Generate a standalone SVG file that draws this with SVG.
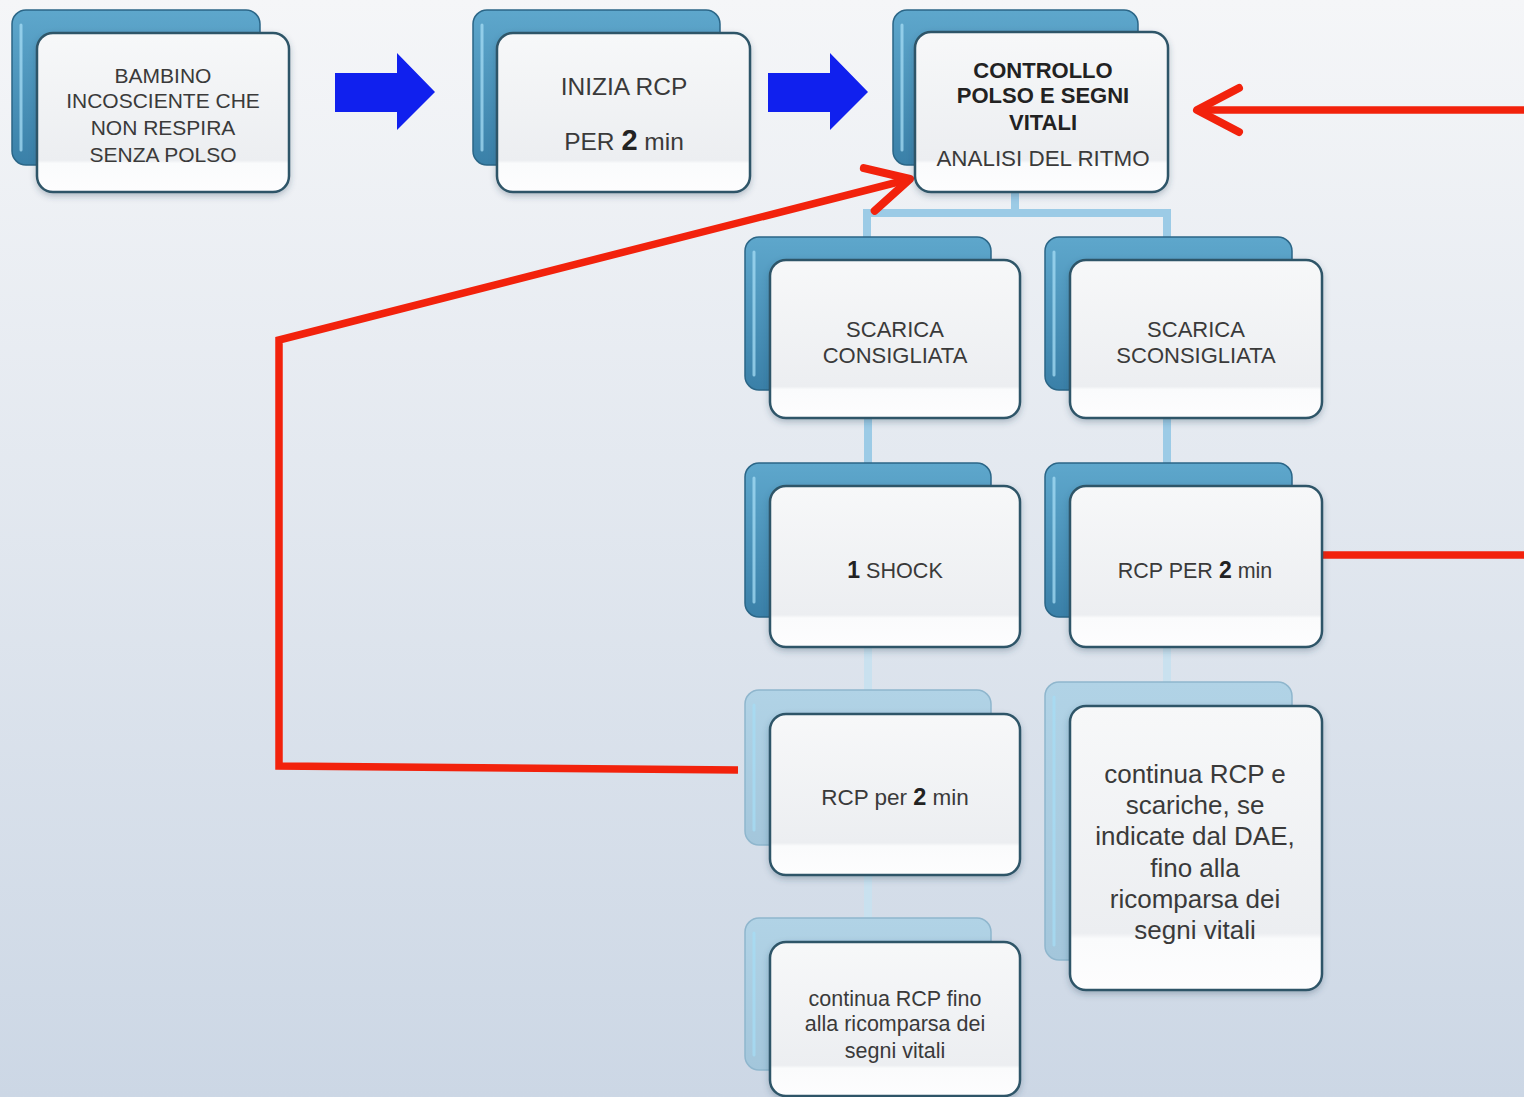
<svg xmlns="http://www.w3.org/2000/svg" width="1524" height="1097" viewBox="0 0 1524 1097">
<defs>
<linearGradient id="bg" x1="0" y1="0" x2="0" y2="1">
<stop offset="0" stop-color="#f5f6f8"/>
<stop offset="1" stop-color="#ccd7e5"/>
</linearGradient>
<linearGradient id="backG" x1="0" y1="0" x2="0" y2="1">
<stop offset="0" stop-color="#5ea7cc"/>
<stop offset="1" stop-color="#3a80a8"/>
</linearGradient>
<linearGradient id="backL" x1="0" y1="0" x2="0" y2="1">
<stop offset="0" stop-color="#b1d3e6"/>
<stop offset="1" stop-color="#a3c6db"/>
</linearGradient>
<linearGradient id="frontG" x1="0" y1="0" x2="0" y2="1">
<stop offset="0" stop-color="#f7f8f9"/>
<stop offset="0.8" stop-color="#eceef1"/>
<stop offset="0.82" stop-color="#fafbfc"/>
<stop offset="1" stop-color="#fdfdfe"/>
</linearGradient>
<filter id="sh" x="-10%" y="-10%" width="120%" height="125%">
<feDropShadow dx="0" dy="3" stdDeviation="3" flood-color="#2a4a60" flood-opacity="0.3"/>
</filter>
<marker id="redHead" markerUnits="userSpaceOnUse" viewBox="-52 -30 60 60" refX="0" refY="0" markerWidth="60" markerHeight="60" orient="auto">
<path d="M -42 -22 L 0 0 L -42 22" fill="none" stroke="#f2220c" stroke-width="8" stroke-linecap="round" stroke-linejoin="round"/>
</marker>
<style>
.back{fill:url(#backG);stroke:#2b6687;stroke-width:1.5}
.backL{fill:url(#backL);stroke:#8fb6cd;stroke-width:1.5}
.bev{fill:none;stroke:#a6dcf4;stroke-width:3;stroke-linecap:round;opacity:.75}
.front{fill:url(#frontG);stroke:#2f5568;stroke-width:2.5;filter:url(#sh)}
.t{font-family:"Liberation Sans",Arial,sans-serif;fill:#3a3a3a;text-anchor:middle}
.b{font-weight:bold;fill:#222}
.conn{fill:none;stroke:#9ccbe6;stroke-width:8}
.connF{fill:none;stroke:#c9e1ef;stroke-width:8}
.red{fill:none;stroke:#f2220c;stroke-width:7.5;stroke-linejoin:miter}
.blue{fill:#1020ee}
</style>
</defs>
<rect x="0" y="0" width="1524" height="1097" fill="url(#bg)"/>

<g id="connectors">
<path class="conn" d="M1015 192 V213 M863 213 H1171 M867 213 V237 M1167 213 V237"/>
<path class="conn" d="M868 418 V463 M1167 418 V463"/>
<path class="connF" d="M868 647 V690 M1167 647 V682 M868 875 V918"/>
<polygon class="blue" points="335,73 397,73 397,53 435,92 397,130 397,112 335,112"/>
<polygon class="blue" points="768,73 830,73 830,53 868,92 830,130 830,112 768,112"/>
<polyline class="red" points="1524,110 1197,110" marker-end="url(#redHead)"/>
<polyline class="red" points="1322,555 1524,555"/>
<polyline class="red" points="738,770 279,766 279,340 910,179" marker-end="url(#redHead)"/>
</g>

<g id="n1">
<rect class="back" x="12" y="10" width="248" height="155" rx="14"/>
<path class="bev" d="M21 25 V150"/>
<rect class="front" x="37" y="33" width="252" height="159" rx="16"/>
<text class="t" font-size="21"><tspan x="163" y="83">BAMBINO</tspan><tspan x="163" y="108">INCOSCIENTE CHE</tspan><tspan x="163" y="135">NON RESPIRA</tspan><tspan x="163" y="162">SENZA POLSO</tspan></text>
</g>

<g id="n2">
<rect class="back" x="473" y="10" width="247" height="155" rx="14"/>
<path class="bev" d="M482 25 V150"/>
<rect class="front" x="497" y="33" width="253" height="159" rx="16"/>
<text class="t" font-size="24.5"><tspan x="624" y="95">INIZIA RCP</tspan><tspan x="624" y="150">PER <tspan font-size="29" font-weight="bold" fill="#222">2</tspan> min</tspan></text>
</g>

<g id="n3">
<rect class="back" x="893" y="10" width="245" height="155" rx="14"/>
<path class="bev" d="M902 25 V150"/>
<rect class="front" x="915" y="32" width="253" height="160" rx="16"/>
<text class="t b" font-size="22"><tspan x="1043" y="78">CONTROLLO</tspan><tspan x="1043" y="103">POLSO E SEGNI</tspan><tspan x="1043" y="130">VITALI</tspan></text>
<text class="t" font-size="22.4" x="1043" y="166">ANALISI DEL RITMO</text>
</g>

<g id="n4">
<rect class="back" x="745" y="237" width="246" height="153" rx="14"/>
<path class="bev" d="M754 252 V375"/>
<rect class="front" x="770" y="260" width="250" height="158" rx="16"/>
<text class="t" font-size="22"><tspan x="895" y="337">SCARICA</tspan><tspan x="895" y="363">CONSIGLIATA</tspan></text>
</g>

<g id="n5">
<rect class="back" x="1045" y="237" width="247" height="153" rx="14"/>
<path class="bev" d="M1054 252 V375"/>
<rect class="front" x="1070" y="260" width="252" height="158" rx="16"/>
<text class="t" font-size="22"><tspan x="1196" y="337">SCARICA</tspan><tspan x="1196" y="363">SCONSIGLIATA</tspan></text>
</g>

<g id="n6">
<rect class="back" x="745" y="463" width="246" height="154" rx="14"/>
<path class="bev" d="M754 478 V602"/>
<rect class="front" x="770" y="486" width="250" height="161" rx="16"/>
<text class="t" font-size="21.6" x="895" y="578"><tspan class="b" font-size="23">1</tspan> SHOCK</text>
</g>

<g id="n7">
<rect class="back" x="1045" y="463" width="247" height="154" rx="14"/>
<path class="bev" d="M1054 478 V602"/>
<rect class="front" x="1070" y="486" width="252" height="161" rx="16"/>
<text class="t" font-size="21.5" x="1195" y="578">RCP PER <tspan class="b" font-size="23">2</tspan> min</text>
</g>

<g id="n8">
<rect class="backL" x="745" y="690" width="246" height="155" rx="14"/>
<path class="bev" d="M754 705 V830"/>
<rect class="front" x="770" y="714" width="250" height="161" rx="16"/>
<text class="t" font-size="22.5" x="895" y="805">RCP per <tspan class="b" font-size="23.5">2</tspan> min</text>
</g>

<g id="n9">
<rect class="backL" x="1045" y="682" width="247" height="278" rx="14"/>
<path class="bev" d="M1054 697 V945"/>
<rect class="front" x="1070" y="706" width="252" height="284" rx="16"/>
<text class="t" font-size="26"><tspan x="1195" y="783">continua RCP e</tspan><tspan x="1195" y="814">scariche, se</tspan><tspan x="1195" y="845">indicate dal DAE,</tspan><tspan x="1195" y="877">fino alla</tspan><tspan x="1195" y="908">ricomparsa dei</tspan><tspan x="1195" y="939">segni vitali</tspan></text>
</g>

<g id="n10">
<rect class="backL" x="745" y="918" width="246" height="152" rx="14"/>
<path class="bev" d="M754 933 V1055"/>
<rect class="front" x="770" y="942" width="250" height="154" rx="16"/>
<text class="t" font-size="21.5"><tspan x="895" y="1006">continua RCP fino</tspan><tspan x="895" y="1031">alla ricomparsa dei</tspan><tspan x="895" y="1058">segni vitali</tspan></text>
</g>
</svg>
